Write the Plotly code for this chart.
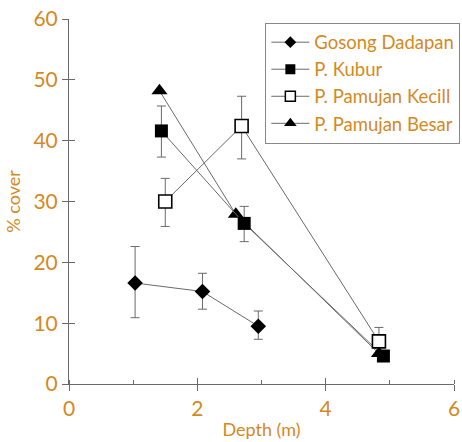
import plotly.graph_objects as go

# Data
gd_x = [1.03, 2.08, 2.95]
gd_y = [16.6, 15.2, 9.5]
gd_ep = [6.0, 3.0, 2.5]
gd_em = [5.7, 2.9, 2.15]

kb_x = [1.44, 2.73, 4.9]
kb_y = [41.6, 26.4, 4.6]
kb_ep = [4.1, 2.8, 0]
kb_em = [4.3, 3.0, 0]

pk_x = [1.5, 2.69, 4.83]
pk_y = [30.0, 42.4, 7.0]
pk_ep = [3.8, 4.9, 2.3]
pk_em = [4.1, 5.4, 0]

pb_x = [1.41, 2.6, 4.83]
pb_y = [48.2, 27.9, 5.0]

x_ticks = [0, 2, 4, 6]
y_ticks = [0, 10, 20, 30, 40, 50, 60]

ORANGE = "#D4891E"
LINE = "#6a6a6a"
FONT = "Lato"

fig = go.Figure()

def err(p, m):
    return dict(type="data", symmetric=False, array=p, arrayminus=m,
                color=LINE, thickness=1, width=4.5)

lw = dict(color=LINE, width=1)
m_gd = dict(symbol="diamond", size=12, color="black")
m_pb = dict(symbol="triangle-up", size=14, color="black")
m_kb = dict(symbol="square", size=13, color="black")
m_pk = dict(symbol="square", size=13, color="white", line=dict(color="black", width=1.6))

fig.add_trace(go.Scatter(x=gd_x, y=gd_y, name="Gosong Dadapan", mode="lines+markers",
                         line=lw, marker=m_gd, error_y=err(gd_ep, gd_em), showlegend=False))
fig.add_trace(go.Scatter(x=pb_x, y=pb_y, name="P. Pamujan Besar", mode="lines+markers",
                         line=lw, marker=m_pb, showlegend=False))
fig.add_trace(go.Scatter(x=kb_x, y=kb_y, name="P. Kubur", mode="lines+markers",
                         line=lw, marker=m_kb, error_y=err(kb_ep, kb_em), showlegend=False))
fig.add_trace(go.Scatter(x=pk_x, y=pk_y, name="P. Pamujan Kecill", mode="lines+markers",
                         line=lw, marker=m_pk, error_y=err(pk_ep, pk_em), showlegend=False))

# legend entries (smaller symbols, as in the original legend)
leg = [("Gosong Dadapan", dict(symbol="diamond", size=9, color="black")),
       ("P. Kubur", dict(symbol="square", size=10, color="black")),
       ("P. Pamujan Kecill", dict(symbol="square", size=10, color="white",
                                  line=dict(color="black", width=1.5))),
       ("P. Pamujan Besar", dict(symbol="triangle-up", size=11, color="black"))]
for name, mk in leg:
    fig.add_trace(go.Scatter(x=[None], y=[None], name=name, mode="lines+markers",
                             line=lw, marker=mk, showlegend=True))

# overlay axes for inward-crossing ticks
fig.add_trace(go.Scatter(x=[None], y=[None], xaxis="x2", yaxis="y2",
                         showlegend=False, hoverinfo="skip"))

fig.update_layout(
    width=462, height=442,
    margin=dict(l=69, r=8, t=19, b=58, autoexpand=False),
    paper_bgcolor="white", plot_bgcolor="white",
    font=dict(family=FONT, color=ORANGE),
    showlegend=True,
    legend=dict(x=0.51, y=0.99, xanchor="left", yanchor="top",
                bgcolor="white", bordercolor="#888888", borderwidth=1,
                font=dict(size=18.5, color=ORANGE, family=FONT),
                itemwidth=38, tracegroupgap=0),
    xaxis=dict(range=[0, 6], tickvals=x_ticks, showgrid=False, zeroline=False,
               showline=True, linecolor=LINE, linewidth=1, automargin=False,
               ticks="outside", ticklen=6, tickcolor=LINE, tickwidth=1,
               ticklabeloverflow="allow",
               minor=dict(ticks="inside", ticklen=4, dtick=1, tick0=0,
                          tickcolor=LINE, showgrid=False),
               tickfont=dict(size=21, color=ORANGE),
               title=dict(text="Depth (m)", font=dict(size=18, color=ORANGE),
                          standoff=4)),
    yaxis=dict(range=[0, 60], tickvals=y_ticks, showgrid=False, zeroline=False,
               showline=True, linecolor=LINE, linewidth=1, automargin=False,
               ticks="outside", ticklen=6, tickcolor=LINE, tickwidth=1,
               ticklabeloverflow="allow",
               tickfont=dict(size=21, color=ORANGE),
               title=dict(text="% cover", font=dict(size=18, color=ORANGE),
                          standoff=8)),
    xaxis2=dict(range=[0, 6], tickvals=x_ticks, overlaying="x", showgrid=False,
                zeroline=False, showline=False, showticklabels=False, automargin=False,
                ticks="inside", ticklen=6, tickcolor=LINE, side="bottom"),
    yaxis2=dict(range=[0, 60], tickvals=y_ticks, overlaying="y", showgrid=False,
                zeroline=False, showline=False, showticklabels=False, automargin=False,
                ticks="inside", ticklen=6, tickcolor=LINE, side="left"),
)

fig.write_html("out.html",
               config={"displayModeBar": False},
               post_script="document.body.style.margin='0px';"
                           "document.documentElement.style.overflow='hidden';")
